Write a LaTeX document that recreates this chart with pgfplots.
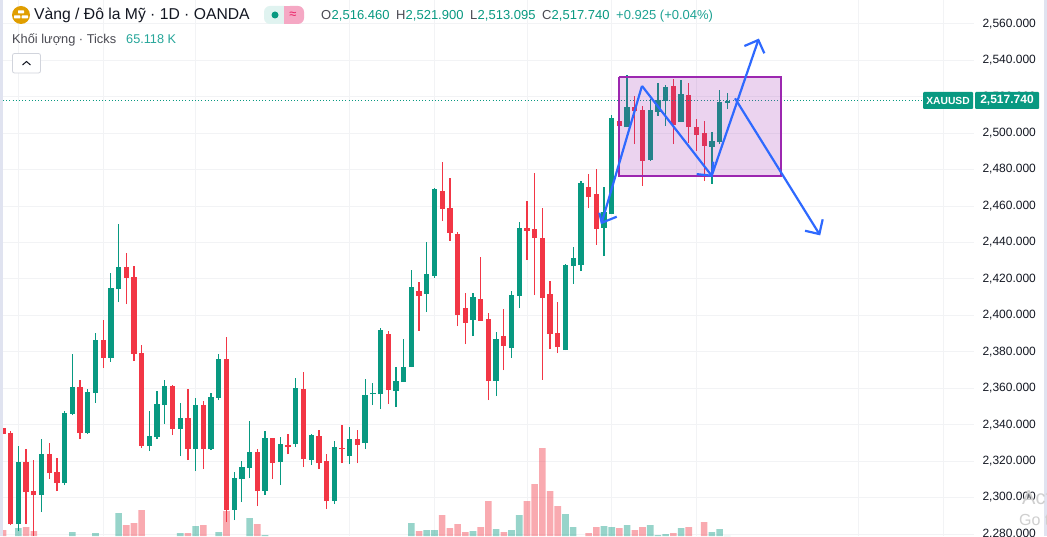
\documentclass[border=0pt]{standalone}
\usepackage{pgfplots}
\usepackage{pgfplotstable}
\usepackage{fontspec}
\setmainfont{Liberation Sans}
\pgfplotsset{compat=1.18}
\definecolor{up}{HTML}{089981}
\definecolor{dn}{HTML}{F23645}
\definecolor{gridc}{HTML}{F2F3F5}
\definecolor{strip}{HTML}{E0E3F0}
\definecolor{arrowc}{HTML}{2E69FF}
\definecolor{boxc}{HTML}{9C27B0}
\definecolor{txt}{HTML}{131722}
\definecolor{lgt}{HTML}{26A69A}
\definecolor{coin}{HTML}{E09E00}
\definecolor{pillg}{HTML}{E0F3F0}
\definecolor{pillr}{HTML}{F5A8C4}
\definecolor{pinkd}{HTML}{E91E63}
\definecolor{btn}{HTML}{D1D4DC}
\definecolor{wm}{HTML}{CFCFCF}
\definecolor{ohl}{HTML}{4A4A52}
% i high top bottom low
\pgfplotstableread{
i h t b l
2 2328.2 2319.5 2285.4 2281.6
5 2332.1 2323.8 2301.3 2292.0
8 2347.5 2346.4 2307.9 2306.8
9 2378.8 2360.6 2345.8 2345.2
11 2359.5 2357.9 2335.4 2334.8
12 2390.3 2386.4 2357.3 2351.9
14 2423.2 2415.0 2376.5 2374.4
15 2450.1 2426.5 2414.4 2407.3
19 2347.5 2333.7 2328.2 2325.5
20 2358.4 2351.3 2333.2 2332.1
21 2364.5 2361.2 2350.7 2340.3
23 2351.9 2343.6 2337.6 2322.7
25 2354.6 2350.7 2326.6 2314.5
27 2357.3 2355.1 2326.6 2326.0
28 2378.8 2376.0 2354.6 2353.5
30 2314.0 2310.7 2293.1 2287.6
31 2320.0 2316.7 2310.1 2297.5
32 2342.0 2325.0 2316.2 2310.7
34 2336.5 2332.6 2303.5 2301.3
36 2333.2 2329.3 2319.5 2306.8
38 2365.6 2360.1 2329.3 2327.7
40 2334.8 2334.3 2320.5 2317.8
43 2331.0 2327.7 2298.0 2296.4
45 2338.7 2332.1 2322.7 2318.3
47 2365.0 2356.2 2329.9 2326.6
48 2362.8 2357.3 2356.8 2350.7
49 2393.0 2391.9 2356.8 2348.5
51 2371.6 2363.9 2358.4 2349.6
52 2387.0 2371.6 2363.4 2363.4
53 2424.9 2415.5 2371.6 2371.6
55 2440.2 2422.7 2411.7 2401.8
56 2469.9 2469.3 2421.6 2420.5
61 2412.2 2410.0 2397.4 2388.6
64 2390.8 2387.0 2363.9 2355.7
66 2413.3 2411.1 2382.0 2376.5
67 2451.2 2447.9 2410.6 2404.0
73 2428.2 2427.6 2380.9 2380.9
74 2437.5 2431.4 2427.0 2417.2
75 2473.7 2472.6 2427.6 2424.3
78 2470.4 2456.7 2447.9 2432.5
79 2509.9 2508.3 2455.6 2455.6
81 2531.9 2514.3 2503.3 2503.3
84 2518.7 2512.7 2485.2 2484.7
85 2527.5 2518.2 2511.6 2509.4
86 2526.4 2525.3 2517.6 2503.9
88 2529.2 2521.5 2506.1 2506.1
92 2500.6 2495.7 2492.4 2472.1
93 2523.7 2517.1 2495.1 2494.0
94 2521.9 2517.74 2516.46 2513.095
}\upT
\pgfplotstableread{
i h t b l
0 2338.1 2338.1 2334.8 2334.8
1 2336.5 2335.4 2285.4 2284.9
3 2326.6 2319.5 2303.0 2285.4
4 2320.5 2303.5 2301.3 2279.0
6 2329.9 2323.8 2313.4 2310.1
7 2321.6 2314.0 2307.9 2303.5
10 2364.5 2360.6 2335.4 2332.1
13 2397.4 2386.4 2376.5 2371.0
16 2434.2 2426.5 2420.5 2406.2
17 2427.1 2421.0 2378.8 2374.9
18 2383.7 2379.3 2328.2 2327.1
22 2361.7 2361.2 2337.6 2334.3
24 2359.5 2343.6 2326.6 2320.5
26 2352.9 2350.7 2326.6 2315.6
29 2388.1 2376.0 2293.1 2286.5
33 2326.6 2325.0 2303.5 2295.3
35 2332.6 2332.6 2318.9 2310.1
37 2334.8 2328.8 2327.7 2323.8
39 2368.9 2359.5 2321.1 2316.7
41 2337.0 2333.7 2318.9 2315.6
42 2323.8 2320.0 2298.0 2293.6
44 2339.8 2327.1 2326.6 2318.9
46 2337.0 2332.1 2328.8 2318.9
50 2391.4 2389.7 2359.0 2351.3
54 2418.3 2413.3 2410.6 2391.4
57 2484.1 2468.2 2458.3 2451.7
58 2475.4 2458.9 2445.2 2440.8
59 2445.7 2444.6 2400.2 2394.1
60 2412.2 2404.0 2395.8 2384.2
62 2432.0 2408.9 2396.9 2396.9
63 2401.2 2397.9 2363.9 2353.5
65 2403.5 2388.6 2383.1 2369.9
68 2462.7 2447.9 2446.3 2430.3
69 2478.1 2447.4 2442.4 2411.1
70 2458.9 2442.4 2409.5 2364.5
71 2418.8 2411.7 2389.7 2381.5
72 2407.3 2390.3 2382.6 2379.3
76 2477.6 2470.4 2464.9 2458.9
77 2480.3 2466.6 2447.4 2438.6
80 2506.6 2506.6 2503.9 2479.7
82 2520.4 2514.3 2512.1 2494.0
83 2514.9 2512.7 2484.7 2471.0
87 2529.7 2525.9 2504.4 2494.0
89 2527.5 2520.9 2503.3 2494.6
90 2507.7 2503.3 2498.9 2490.2
91 2506.6 2500.1 2492.9 2473.7
}\dnT
\pgfplotstableread{
i v
2 89
9 77
12 74
15 134
23 74
25 95
28 77
32 119
34 68
53 104
55 83
56 83
61 80
64 86
66 83
67 128
73 131
74 92
78 95
79 92
81 98
84 98
85 68
86 71
88 89
92 77
93 86
94 65.118
}\upV
\pgfplotstableread{
i v
0 83
3 92
4 80
16 98
17 104
18 143
24 74
26 98
29 140
33 101
54 80
57 128
58 89
59 101
60 77
62 92
63 170
65 77
68 170
69 221
70 329
71 200
72 155
76 74
77 92
80 89
82 83
83 92
87 74
89 92
91 107
}\dnV
\pgfplotsset{base/.style={
  at={(3pt,0pt)}, anchor=south west,
  width=971pt, height=536pt, scale only axis,
  xmin=0, xmax=126.02,
  axis line style={draw=none},
  major tick length=0pt,
  xtick=\empty, ytick=\empty,
  clip=true}}
\newcommand\candles[2]{%
  \addplot[draw=none, mark=none, forget plot,
    error bars/.cd, y dir=plus, y explicit, error mark=none,
    error bar style={draw=#2, line width=1.25pt}]
    table[x=i, y=l, y error expr=\thisrow{h}-\thisrow{l}]{#1};
  \addplot[draw=none, mark=none, forget plot,
    error bars/.cd, y dir=plus, y explicit, error mark=none,
    error bar style={draw=#2, line width=5.3pt}]
    table[x=i, y=b, y error expr=\thisrow{t}-\thisrow{b}]{#1};
}
\newcommand\T[5][13]{\node[anchor=base west, inner sep=0pt, text=#4, font=\fontsize{#1}{16}\selectfont] at (#2pt,{536pt-#3pt}) {#5};}
\begin{document}
\begin{tikzpicture}
\useasboundingbox (0,0) rectangle (1047pt,536pt);
\clip (0,0) rectangle (1047pt,536pt);
\fill[white] (0,0) rectangle (1047pt,536pt);
% price grid and scale
\begin{axis}[base,
  ymin=2278.88, ymax=2573.06,
  xtick={2,13,25,45,56,68,79,90,111,122},
  xticklabels={},
  ytick={2280,2300,...,2560},
  grid=major,
  major grid style={draw=gridc, line width=0.9pt},
  yticklabel pos=right,
  scaled y ticks=false,
  yticklabel style={/pgf/number format/.cd, fixed, fixed zerofill, precision=3,
     1000 sep={,}, assume math mode=true,
     /tikz/.cd, anchor=west, xshift=5pt, font=\fontsize{12}{14}\selectfont, text=txt},
]
\addplot[draw=none, forget plot] coordinates {(0,2300) (1,2300)};
\end{axis}
% volume
\begin{axis}[base, ymin=65, ymax=1673]
\addplot[ybar, bar width=6.6pt, bar shift=0pt, draw=none, fill=up, fill opacity=0.42] table[x=i,y=v]{\upV};
\addplot[ybar, bar width=6.6pt, bar shift=0pt, draw=none, fill=dn, fill opacity=0.42] table[x=i,y=v]{\dnV};
\end{axis}
% candles and drawings
\begin{axis}[base, ymin=2278.88, ymax=2573.06]
\candles{\upT}{up}
\candles{\dnT}{dn}
% last price line
\addplot[up, line width=0.9pt, dash pattern=on 1pt off 2.2pt, forget plot] coordinates {(0,2517.74) (119.4,2517.74)};
% range box
\addplot[draw=boxc, line width=2pt, fill=boxc, fill opacity=0.2, draw opacity=1, forget plot]
  coordinates {(79.95,2530.8) (101.0,2530.8) (101.0,2476.6) (79.95,2476.6) (79.95,2530.8)};
% arrows
\addplot[arrowc, line width=2.2pt, forget plot] coordinates {(82.93,2525.9) (77.70,2450.8)};
\addplot[arrowc, line width=2.2pt, forget plot] coordinates {(77.40,2456.3) (77.70,2450.8) (79.65,2454.1)};
\addplot[arrowc, line width=2.2pt, forget plot] coordinates {(82.93,2525.9) (91.98,2476.6)};
\addplot[arrowc, line width=2.2pt, forget plot] coordinates {(90.03,2477.5) (91.98,2476.6) (92.19,2484.3)};
\addplot[arrowc, line width=2.2pt, forget plot] coordinates {(91.98,2476.6) (98.03,2551.1)};
\addplot[arrowc, line width=2.2pt, forget plot] coordinates {(96.22,2547.8) (98.03,2551.1) (98.81,2543.8)};
\addplot[arrowc, line width=2.2pt, forget plot] coordinates {(95.00,2519.1) (105.95,2444.6)};
\addplot[arrowc, line width=2.2pt, forget plot] coordinates {(104.09,2446.4) (105.95,2444.6) (106.38,2452.7)};
\end{axis}
% side strips
\fill[strip] (0,0) rectangle (3pt,536pt);
\fill[strip] (1043.5pt,0) rectangle (1047pt,536pt);
% price tags
\fill[up, rounded corners=1pt] (923pt,{536pt-92pt}) rectangle (973pt,{536pt-109pt});
\fill[up, rounded corners=1pt] (975pt,{536pt-92pt}) rectangle (1039pt,{536pt-109pt});
\node[text=white, inner sep=0pt, font=\fontsize{10.3}{13}\selectfont\bfseries] at (948pt,{536pt-100.5pt}) {XAUUSD};
\node[text=white, inner sep=0pt, font=\fontsize{12}{14}\selectfont\bfseries] at (1007pt,{536pt-100.5pt}) {2,517.740};
% header: coin
\fill[coin] (21pt,{536pt-15pt}) circle (9pt);
\fill[white, rounded corners=0.5pt] (18pt,{536pt-13.5pt}) rectangle (24pt,{536pt-10.5pt});
\fill[white, rounded corners=0.5pt] (14pt,{536pt-18.5pt}) rectangle (20.4pt,{536pt-15.5pt});
\fill[white, rounded corners=0.5pt] (21.6pt,{536pt-18.5pt}) rectangle (28pt,{536pt-15.5pt});
\T[15.7]{34}{19.5}{txt}{Vàng / Đô la Mỹ · 1D · OANDA}
% status pill
\fill[pillg, rounded corners=6pt] (264pt,{536pt-6pt}) rectangle (290pt,{536pt-24pt});
\fill[pillg] (280pt,{536pt-6pt}) rectangle (284pt,{536pt-24pt});
\fill[pillr, rounded corners=6pt] (284pt,{536pt-6pt}) rectangle (304pt,{536pt-24pt});
\fill[pillr] (284pt,{536pt-6pt}) rectangle (292pt,{536pt-24pt});
\fill[up] (275pt,{536pt-15pt}) circle (3.5pt);
\node[text=pinkd, inner sep=0pt, font=\fontsize{13}{14}\selectfont] at (293pt,{536pt-15pt}) {≈};
% OHLC
\T{321}{19.5}{ohl}{O}
\T{331.5}{19.5}{up}{2,516.460}
\T{396}{19.5}{ohl}{H}
\T{405.5}{19.5}{up}{2,521.900}
\T{470}{19.5}{ohl}{L}
\T{477.5}{19.5}{up}{2,513.095}
\T{542}{19.5}{ohl}{C}
\T{551.5}{19.5}{up}{2,517.740}
\T{616}{19.5}{lgt!70!up}{+0.925 (+0.04\%)}
% volume line
\T[12.8]{12}{43.5}{ohl}{Khối lượng · Ticks}
\T[12.7]{126}{43.5}{lgt}{65.118 K}
% collapse button
\draw[btn, line width=0.8pt, rounded corners=2pt, fill=white] (12.5pt,{536pt-53.5pt}) rectangle (40.5pt,{536pt-73pt});
\draw[txt, line width=1pt] (22.5pt,{536pt-65pt}) -- (26.5pt,{536pt-61.5pt}) -- (30.5pt,{536pt-65pt});
% watermark
\T[20]{1022}{504}{wm}{Act}
\T[16]{1019}{525}{wm}{Go t}
\end{tikzpicture}
\end{document}
